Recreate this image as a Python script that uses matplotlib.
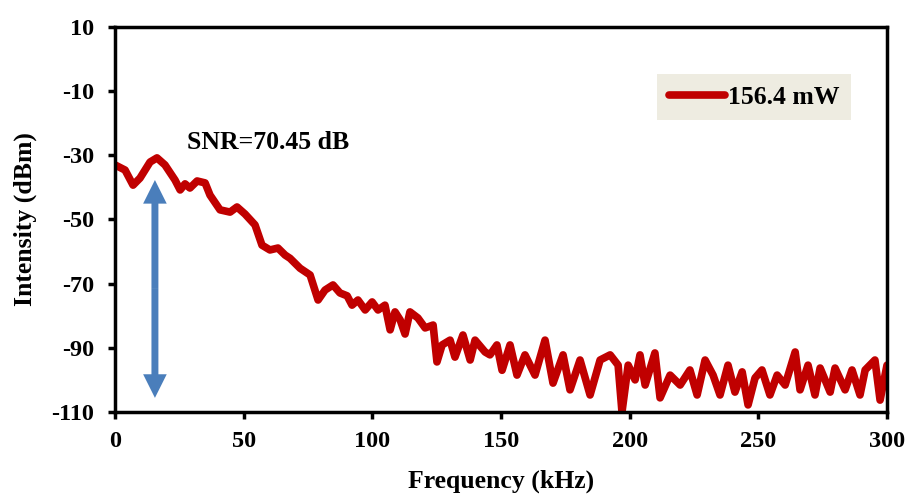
import matplotlib
matplotlib.use('Agg')
import matplotlib.pyplot as plt
import numpy as np

# spectrum (kHz, dBm)
freq = [0, 3.9, 7.0, 9.7, 13.6, 16.3, 19.4, 23.3, 25.3, 27.2, 29.1, 31.9, 35.0, 36.9,
        40.8, 44.7, 47.4, 50.5, 54.4, 57.1, 60.2, 63.3, 66.1, 68.0, 71.9, 75.8, 78.9,
        81.6, 84.7, 87.4, 90.2, 92.1, 94.4, 97.2, 99.9, 102.2, 104.9, 106.9, 108.8,
        110.8, 112.7, 114.6, 117.7, 120.5, 123.6, 125.1, 127.1, 130.2, 132.1, 135.2,
        138.0, 139.9, 143.8, 145.7, 148.4, 150.4, 153.5, 156.2, 159.3, 163.2, 167.1,
        170.2, 174.1, 176.8, 180.7, 184.6, 188.5, 192.4, 195.5, 197.0, 199.4, 202.1,
        204.0, 206.0, 209.8, 211.8, 215.7, 219.6, 223.4, 226.2, 229.3, 232.4, 235.1,
        238.2, 240.9, 243.7, 246.0, 248.7, 251.4, 254.5, 257.3, 260.4, 264.3, 266.2,
        269.3, 272.0, 274.0, 277.9, 279.8, 283.7, 286.4, 289.5, 291.5, 295.3, 297.3,
        300.0]
intensity = [-33.0, -34.6, -39.3, -37.1, -32.1, -30.8, -33.0, -37.7, -40.8, -38.9,
             -40.2, -38.0, -38.6, -42.4, -47.0, -47.7, -46.1, -48.3, -51.7, -58.0,
             -59.5, -58.9, -61.1, -62.1, -65.2, -67.3, -75.1, -72.0, -70.4, -72.9,
             -73.8, -76.7, -75.1, -78.2, -75.7, -78.2, -76.7, -84.4, -78.8, -81.3,
             -85.7, -78.8, -80.7, -83.8, -82.9, -94.4, -89.1, -87.6, -92.9, -86.0,
             -93.8, -87.6, -91.3, -92.2, -89.1, -97.0, -89.1, -98.5, -92.2, -98.5,
             -87.6, -101.0, -92.2, -103.1, -93.8, -104.7, -93.8, -92.2, -95.4, -110.0,
             -95.4, -100.0, -92.2, -101.6, -91.6, -105.6, -98.5, -101.6, -96.9, -104.7,
             -93.8, -98.5, -104.7, -95.4, -103.8, -97.5, -107.8, -99.4, -96.9, -104.7,
             -98.5, -101.6, -91.3, -103.1, -95.4, -104.7, -96.3, -103.8, -96.3, -103.1,
             -96.9, -104.7, -96.9, -93.8, -106.3, -95.4]

series_label = '156.4 mW'
snr_text = 'SNR=70.45 dB'
arrow_x = 15.5
arrow_top = -37.7
arrow_bottom = -105.6

plt.rcParams['font.family'] = 'Liberation Serif'
plt.rcParams['font.weight'] = 'bold'
plt.rcParams['axes.unicode_minus'] = False

fig = plt.figure(figsize=(9.08, 4.95), dpi=100)
ax = fig.add_axes([0.1267, 0.1677, 0.8502, 0.7778])

ax.plot(freq, intensity, color='#C00000', linewidth=5.5, solid_capstyle='round',
        solid_joinstyle='round', label=series_label)

# double-headed arrow: two simple arrows from the middle outwards
mid = (arrow_top + arrow_bottom) / 2
for end in (arrow_top, arrow_bottom):
    ax.annotate('', xy=(arrow_x, end), xytext=(arrow_x, mid),
                arrowprops=dict(arrowstyle='simple,head_length=17,head_width=17,tail_width=5',
                                mutation_scale=1, color='#4A7EBB', lw=0,
                                shrinkA=0, shrinkB=0))

ax.text(28, -26, snr_text, fontsize=18.5, fontweight='bold', va='center', ha='left')

ax.set_xlim(0, 300)
ax.set_ylim(-110, 10)
ax.set_xticks(np.arange(0, 301, 50))
ax.set_yticks(np.arange(-110, 11, 20))
for s in ax.spines.values():
    s.set_linewidth(2.5)
ax.tick_params(axis='both', which='major', labelsize=17.5, width=2.5, length=5, direction='out')
ax.tick_params(axis='x', pad=9)
ax.tick_params(axis='y', pad=10)
for lbl in ax.get_xticklabels() + ax.get_yticklabels():
    lbl.set_fontweight('bold')

ax.set_xlabel('Frequency (kHz)', fontsize=18.5, fontweight='bold', labelpad=12)
ax.set_ylabel('Intensity (dBm)', fontsize=18.5, fontweight='bold', labelpad=10)

leg = ax.legend(loc='upper right', bbox_to_anchor=(0.953, 0.877), fontsize=18.5,
                frameon=True, fancybox=False, handlelength=2.2, borderpad=0.45,
                handletextpad=0.1, borderaxespad=0)
leg.get_frame().set_facecolor('#EEECE1')
leg.get_frame().set_edgecolor('none')
leg.get_frame().set_alpha(1)
for t in leg.get_texts():
    t.set_fontweight('bold')

plt.savefig('out.png', dpi=100)
